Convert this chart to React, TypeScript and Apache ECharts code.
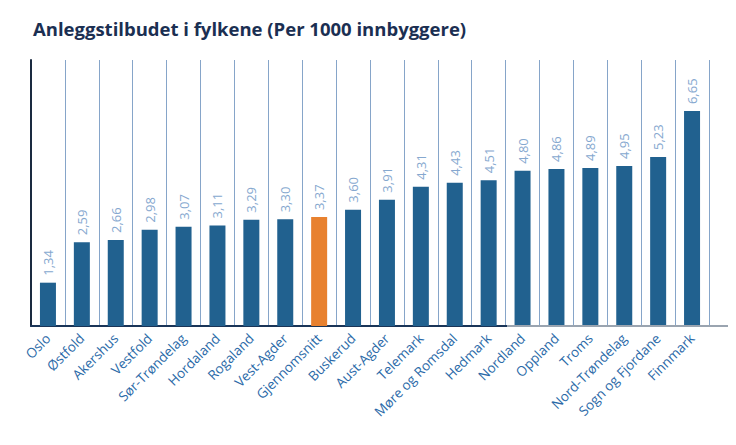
import React, { useEffect, useRef } from "react";
import * as echarts from "echarts";

const categories = [
  "Oslo", "Østfold", "Akershus", "Vestfold", "Sør-Trøndelag", "Hordaland", "Rogaland",
  "Vest-Agder", "Gjennomsnitt", "Buskerud", "Aust-Agder", "Telemark", "Møre og Romsdal",
  "Hedmark", "Nordland", "Oppland", "Troms", "Nord-Trøndelag", "Sogn og Fjordane", "Finnmark",
];
const values = [
  1.34, 2.59, 2.66, 2.98, 3.07, 3.11, 3.29, 3.3, 3.37, 3.6, 3.91, 4.31, 4.43, 4.51, 4.8,
  4.86, 4.89, 4.95, 5.23, 6.65,
];
const highlight = "Gjennomsnitt";

export default function App() {
  const ref = useRef<HTMLDivElement>(null);
  useEffect(() => {
    if (!ref.current) return;
    const chart = echarts.init(ref.current, undefined, { renderer: "svg" });
    chart.setOption({
      animation: false,
      textStyle: { fontFamily: "Open Sans" },
      title: {
        text: "Anleggstilbudet i fylkene (Per 1000 innbyggere)",
        left: 28,
        top: 14,
        textStyle: { fontFamily: "Open Sans", fontWeight: "bold", fontSize: 18.5, color: "#1b2f52" },
      },
      grid: { left: 31, right: 27, top: 60, bottom: 119, containLabel: false },
      xAxis: {
        type: "category",
        data: categories,
        axisLine: { show: true, lineStyle: { color: "#1a3558", width: 2 } },
        axisTick: { show: false },
        splitLine: { show: true, lineStyle: { color: "#86a5c9", width: 1 } },
        axisLabel: {
          interval: 0,
          rotate: 45,
          margin: 10,
          color: "#2b6aa8",
          fontSize: 13.5,
          fontFamily: "Open Sans",
        },
      },
      yAxis: {
        type: "value",
        min: 0,
        max: 8.23,
        axisLine: { show: true, lineStyle: { color: "#1a2a40", width: 2 } },
        axisTick: { show: false },
        axisLabel: { show: false },
        splitLine: { show: false },
      },
      graphic: [
        {
          type: "line",
          shape: { x1: 507, y1: 326, x2: 736, y2: 326 },
          style: { stroke: "#9aa4b0", lineWidth: 2 },
          z: 100,
        },
      ],
      series: [
        {
          type: "bar",
          barWidth: 16,
          data: categories.map((c, i) => ({
            value: values[i],
            itemStyle: { color: c === highlight ? "#e8812f" : "#21618f" },
          })),
          label: {
            show: true,
            position: "top",
            rotate: 90,
            align: "left",
            verticalAlign: "middle",
            distance: 7,
            color: "#86a8cf",
            fontSize: 13,
            fontFamily: "Open Sans",
            formatter: (p: any) => p.value.toFixed(2).replace(".", ","),
          },
        },
      ],
    });
    return () => chart.dispose();
  }, []);
  return <div ref={ref} style={{ width: 736, height: 445, margin: -8 }} />;
}
